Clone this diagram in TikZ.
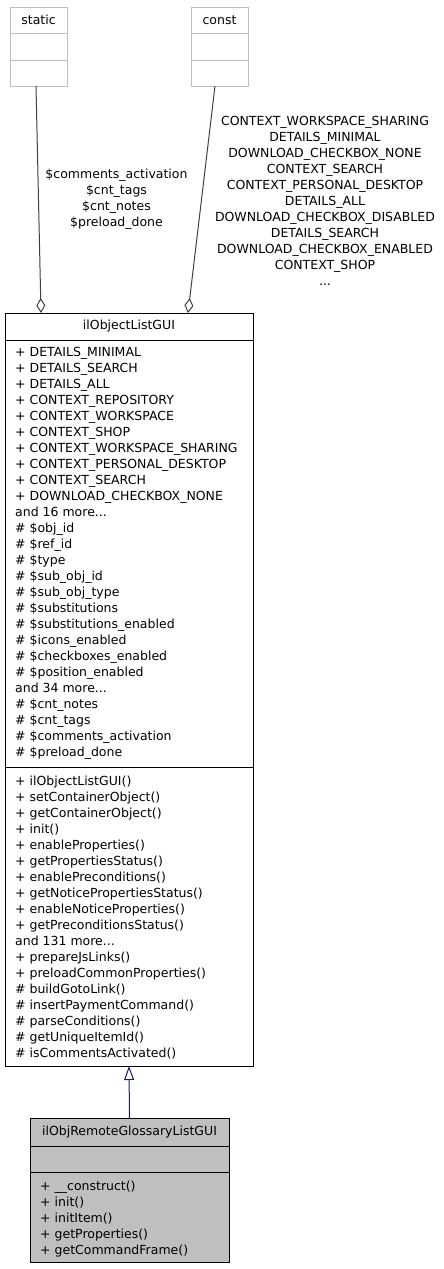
\documentclass[tikz,border=0pt]{standalone}
\usepackage{fontspec}
\setmainfont{DejaVu Sans}
\usetikzlibrary{arrows.meta, positioning}
\definecolor{edgegray}{RGB}{64, 64, 64}
\definecolor{hidegray}{RGB}{191, 191, 191}
\definecolor{navyedge}{RGB}{25, 25, 112}

\begin{document}
\begin{tikzpicture}[x=1pt, y=-1pt,
    part/.style={rectangle, draw=black, line width=1pt, inner sep=0pt, outer sep=0pt, font=\fontsize{12.5}{16}\selectfont},
    hidden/.style={part, draw=hidegray},
    current/.style={part, fill=hidegray},
    members/.style={inner sep=0pt, align=left, anchor=north west, font=\fontsize{12.5}{16}\selectfont},
    edgelabel/.style={inner sep=0pt, align=center, font=\fontsize{12.5}{16}\selectfont},
    aggr/.style={-{Diamond[open, length=15pt, width=9pt]}, line width=1pt, color=edgegray},
    inherit/.style={-{Triangle[open, length=14pt, width=10pt]}, line width=1pt, color=navyedge}
]
    \useasboundingbox (0,0) rectangle (444,1269);

    % hidden boxes
    \node[hidden, minimum width=57, minimum height=26] (static) at (38.5,20) {static};
    \node[hidden, minimum width=57, minimum height=27, below=0pt of static] (static-attr) {};
    \node[hidden, minimum width=57, minimum height=26, below=0pt of static-attr] (static-ops) {};

    \node[hidden, minimum width=57, minimum height=26] (const) at (219.5,20) {const};
    \node[hidden, minimum width=57, minimum height=27, below=0pt of const] (const-attr) {};
    \node[hidden, minimum width=57, minimum height=26, below=0pt of const-attr] (const-ops) {};

    % base class
    \node[part, minimum width=248, minimum height=27] (objlist) at (129,326.5) {ilObjectListGUI};
    \node[part, minimum width=248, minimum height=427, below=0pt of objlist] (objlist-attr) {};
    \node[part, minimum width=248, minimum height=299, below=0pt of objlist-attr] (objlist-ops) {};

    \node[members] (objlist-attr-text) at (15,347.5) {+ DETAILS\_MINIMAL\\+ DETAILS\_SEARCH\\+ DETAILS\_ALL\\+ CONTEXT\_REPOSITORY\\+ CONTEXT\_WORKSPACE\\+ CONTEXT\_SHOP\\+ CONTEXT\_WORKSPACE\_SHARING\\+ CONTEXT\_PERSONAL\_DESKTOP\\+ CONTEXT\_SEARCH\\+ DOWNLOAD\_CHECKBOX\_NONE\\and 16 more...\\\# \$obj\_id\\\# \$ref\_id\\\# \$type\\\# \$sub\_obj\_id\\\# \$sub\_obj\_type\\\# \$substitutions\\\# \$substitutions\_enabled\\\# \$icons\_enabled\\\# \$checkboxes\_enabled\\\# \$position\_enabled\\and 34 more...\\\# \$cnt\_notes\\\# \$cnt\_tags\\\# \$comments\_activation\\\# \$preload\_done};
    \node[members] (objlist-ops-text) at (15,775.5) {+ ilObjectListGUI()\\+ setContainerObject()\\+ getContainerObject()\\+ init()\\+ enableProperties()\\+ getPropertiesStatus()\\+ enablePreconditions()\\+ getNoticePropertiesStatus()\\+ enableNoticeProperties()\\+ getPreconditionsStatus()\\and 131 more...\\+ prepareJsLinks()\\+ preloadCommonProperties()\\\# buildGotoLink()\\\# insertPaymentCommand()\\\# parseConditions()\\\# getUniqueItemId()\\\# isCommentsActivated()};

    % derived class
    \node[current, minimum width=199, minimum height=28] (remote) at (129.5,1132) {ilObjRemoteGlossaryListGUI};
    \node[current, minimum width=199, minimum height=26, below=0pt of remote] (remote-attr) {};
    \node[current, minimum width=199, minimum height=90, below=0pt of remote-attr] (remote-ops) {};
    \node[members] (remote-ops-text) at (40,1180.5) {+ \_\_construct()\\+ init()\\+ initItem()\\+ getProperties()\\+ getCommandFrame()};

    % edge labels
    \node[edgelabel] (static-label) at (116.5,199) {\$comments\_activation\\\$cnt\_tags\\\$cnt\_notes\\\$preload\_done};
    \node[edgelabel] (const-label) at (325,201) {CONTEXT\_WORKSPACE\_SHARING\\DETAILS\_MINIMAL\\DOWNLOAD\_CHECKBOX\_NONE\\CONTEXT\_SEARCH\\CONTEXT\_PERSONAL\_DESKTOP\\DETAILS\_ALL\\DOWNLOAD\_CHECKBOX\_DISABLED\\DETAILS\_SEARCH\\DOWNLOAD\_CHECKBOX\_ENABLED\\CONTEXT\_SHOP\\...};

    \draw[aggr] ([xshift=-2.5pt]static-ops.south) -- ([xshift=-88pt]objlist.north);
    \draw[aggr] ([xshift=-4.5pt]const-ops.south) -- ([xshift=59pt]objlist.north);
    \draw[inherit] (remote.north) -- (objlist-ops.south);
\end{tikzpicture}
\end{document}
